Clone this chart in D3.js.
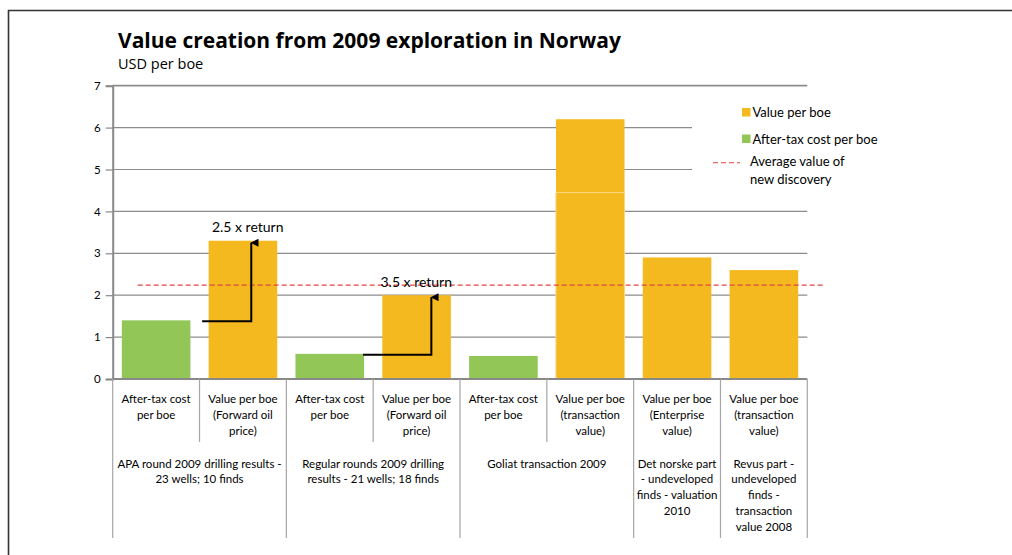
<!DOCTYPE html>
<html>
<head>
<meta charset="utf-8">
<script src="https://cdn.jsdelivr.net/npm/d3@7"></script>
<style>
  html, body { margin: 0; padding: 0; background: #fff; }
  svg { display: block; font-family: Lato, "Open Sans", sans-serif; }
</style>
</head>
<body>
<svg id="chart" width="1012" height="555"></svg>
<script>
// Category labels (one per bar), bottom-level axis text
const categories = [
  "After-tax cost\nper boe",
  "Value per boe\n(Forward oil\nprice)",
  "After-tax cost\nper boe",
  "Value per boe\n(Forward oil\nprice)",
  "After-tax cost\nper boe",
  "Value per boe\n(transaction\nvalue)",
  "Value per boe\n(Enterprise\nvalue)",
  "Value per boe\n(transaction\nvalue)"
];

// Group labels with the span of categories they cover
const groupLabels = [
  "APA round 2009 drilling results -\n23 wells; 10 finds",
  "Regular rounds 2009 drilling\nresults - 21 wells; 18 finds",
  "Goliat transaction 2009",
  "Det norske part\n- undeveloped\nfinds - valuation\n2010",
  "Revus part -\nundeveloped\nfinds -\ntransaction\nvalue 2008"
];
const groupSpans = [[0, 1], [2, 3], [4, 5], [6, 6], [7, 7]];

// Series values (USD per boe); null where a series has no bar
const costValues  = [1.4, null, 0.6, null, 0.55, null, null, null];
const valueLower  = [null, 3.3, null, 2.0, null, 4.45, 2.9, 2.6];
const valueUpper  = [null, 0, null, 0, null, 1.75, 0, 0];

const averageValue = 2.24;
const yTicks = [0, 1, 2, 3, 4, 5, 6, 7];

// Return annotations: from a cost bar to a value bar
const returnLabels = ["2.5 x return", "3.5 x return"];
const returnFrom = [0, 2];
const returnTo = [1, 3];

const legendLabels = ["Value per boe", "After-tax cost per boe", "Average value of\nnew discovery"];

const ORANGE = "#F5B920";
const GREEN = "#92C757";
const RED = "#E0463F";

const svg = d3.select("#chart");

// outer frame (top and left edges)
svg.append("path")
  .attr("d", "M8.5,555 V10.5 H1012")
  .attr("fill", "none").attr("stroke", "#333").attr("stroke-width", 1.6);

const plotLeft = 112.7, plotRight = 807.3, plotTop = 85.7, plotBottom = 379;

const x = d3.scaleBand().domain(d3.range(categories.length))
  .range([plotLeft, plotRight]).paddingInner(0.21).paddingOuter(0.105);
const xCell = d3.scaleBand().domain(d3.range(categories.length))
  .range([plotLeft, plotRight]).padding(0);
const y = d3.scaleLinear().domain([0, 7]).range([plotBottom, plotTop]);

// title
svg.append("text").attr("x", 118).attr("y", 48)
  .attr("font-family", "'Open Sans', sans-serif")
  .attr("font-size", 21).attr("font-weight", 700).attr("fill", "#000")
  .text("Value creation from 2009 exploration in Norway");
svg.append("text").attr("x", 118).attr("y", 69)
  .attr("font-family", "'Open Sans', sans-serif")
  .attr("font-size", 14.5).attr("fill", "#000")
  .text("USD per boe");

// gridlines
svg.append("g").selectAll("line").data(yTicks.filter(d => d > 0)).join("line")
  .attr("x1", plotLeft).attr("x2", plotRight)
  .attr("y1", d => y(d)).attr("y2", d => y(d))
  .attr("stroke", "#8c8c8c").attr("stroke-width", d => d === 7 ? 1.8 : 1.2);

// y axis
const yAxis = svg.append("g").attr("transform", `translate(${plotLeft},0)`)
  .call(d3.axisLeft(y).tickValues(yTicks).tickSize(7).tickPadding(5).tickFormat(d3.format("d")));
yAxis.select(".domain").attr("stroke", "#888").attr("stroke-width", 2);
yAxis.selectAll(".tick line").attr("stroke", "#888").attr("stroke-width", 1.2);
yAxis.selectAll(".tick text").attr("font-family", "Lato, sans-serif")
  .attr("font-size", 11.5).attr("fill", "#000");

// legend background hides grid behind it
svg.append("rect").attr("x", 692).attr("y", 96).attr("width", 300).attr("height", 106).attr("fill", "#fff");

// bars
const bars = svg.append("g");
bars.selectAll("rect.cost").data(costValues.map((v, i) => ({ v, i })).filter(d => d.v != null)).join("rect")
  .attr("class", "cost")
  .attr("x", d => x(d.i)).attr("width", x.bandwidth())
  .attr("y", d => y(d.v)).attr("height", d => y(0) - y(d.v))
  .attr("fill", GREEN);
bars.selectAll("rect.upper").data(valueUpper.map((v, i) => ({ v, i, base: valueLower[i] })).filter(d => d.v)).join("rect")
  .attr("class", "upper")
  .attr("x", d => x(d.i)).attr("width", x.bandwidth())
  .attr("y", d => y(d.base + d.v)).attr("height", d => y(d.base) - y(d.base + d.v))
  .attr("fill", ORANGE);
bars.selectAll("rect.lower").data(valueLower.map((v, i) => ({ v, i })).filter(d => d.v != null)).join("rect")
  .attr("class", "lower")
  .attr("x", d => x(d.i)).attr("width", x.bandwidth())
  .attr("y", d => y(d.v)).attr("height", d => y(0) - y(d.v))
  .attr("fill", ORANGE)
  .attr("stroke", d => valueUpper[d.i] ? "#F9D77F" : "none").attr("stroke-width", 1);

// x axis baseline
svg.append("line").attr("x1", plotLeft).attr("x2", plotRight).attr("y1", plotBottom).attr("y2", plotBottom)
  .attr("stroke", "#888").attr("stroke-width", 2);

// category separators: short between categories inside a group, long between groups
const groupBounds = new Set([0]);
groupSpans.forEach(s => groupBounds.add(s[1] + 1));
const sepIdx = d3.range(categories.length + 1);
svg.append("g").selectAll("line").data(sepIdx).join("line")
  .attr("x1", i => i < categories.length ? xCell(i) : plotRight)
  .attr("x2", i => i < categories.length ? xCell(i) : plotRight)
  .attr("y1", plotBottom)
  .attr("y2", i => groupBounds.has(i) ? 538 : 442)
  .attr("stroke", "#a6a6a6").attr("stroke-width", 1.2);

// multi-line label helper
function multiline(sel, text, cx, y0, lh) {
  const t = sel.append("text").attr("text-anchor", "middle").attr("fill", "#000");
  text.split("\n").forEach((s, k) => {
    t.append("tspan").attr("x", cx).attr("y", y0 + k * lh).text(s);
  });
  return t;
}

const catG = svg.append("g").attr("font-size", 11.5);
categories.forEach((c, i) => {
  multiline(catG, c, xCell(i) + xCell.bandwidth() / 2, 403, 16);
});
const grpG = svg.append("g").attr("font-size", 11.5);
groupLabels.forEach((g, k) => {
  const [a, b] = groupSpans[k];
  const cx = (xCell(a) + xCell(b) + xCell.bandwidth()) / 2;
  multiline(grpG, g, cx, 467.5, 15.8);
});

// average value line
svg.append("line").attr("x1", 137.7).attr("x2", 823)
  .attr("y1", y(averageValue)).attr("y2", y(averageValue))
  .attr("stroke", RED).attr("stroke-width", 1.1).attr("stroke-dasharray", "5,3");

// return arrows
const defs = svg.append("defs");
defs.append("marker").attr("id", "head").attr("viewBox", "0 0 10 10")
  .attr("refX", 5).attr("refY", 1).attr("markerWidth", 8).attr("markerHeight", 10)
  .attr("markerUnits", "userSpaceOnUse").attr("orient", "auto-start-reverse")
  .append("path").attr("d", "M0,10 L5,0 L10,10 Z").attr("fill", "#000");

const arrowStartCat = [1, 2];
const arrowStartFrac = [0.03, 0.884];
const arrowEndFrac = [0.596, 0.67];
const labelFrac = [0.143, 0.084];
const labelVal = [3.5, 2.2];
returnLabels.forEach((lab, k) => {
  const a = returnFrom[k], b = returnTo[k];
  const step = xCell.bandwidth();
  const xs = xCell(arrowStartCat[k]) + arrowStartFrac[k] * step;
  const xe = xCell(b) + arrowEndFrac[k] * step;
  const ys = y(costValues[a]) + 1;
  const ye = y(valueLower[b]);
  svg.append("path")
    .attr("d", `M${xs},${ys} H${xe} V${ye + 2}`)
    .attr("fill", "none").attr("stroke", "#000").attr("stroke-width", 2)
    .attr("marker-end", "url(#head)");
  svg.append("text").attr("x", xCell(b) + labelFrac[k] * step).attr("y", y(labelVal[k]))
    .attr("font-size", 14).attr("fill", "#000").text(lab);
});

// legend
const lg = svg.append("g").attr("font-size", 13).attr("fill", "#000");
lg.append("rect").attr("x", 742).attr("y", 108).attr("width", 8.5).attr("height", 8.5).attr("fill", ORANGE);
lg.append("text").attr("x", 752.5).attr("y", 117).text(legendLabels[0]);
lg.append("rect").attr("x", 742).attr("y", 134.5).attr("width", 8.5).attr("height", 8.5).attr("fill", GREEN);
lg.append("text").attr("x", 752.5).attr("y", 143.5).text(legendLabels[1]);
lg.append("line").attr("x1", 713).attr("x2", 740).attr("y1", 162.7).attr("y2", 162.7)
  .attr("stroke", RED).attr("stroke-width", 1.1).attr("stroke-dasharray", "5,3");
legendLabels[2].split("\n").forEach((s, k) => {
  lg.append("text").attr("x", 750).attr("y", 166 + k * 18).text(s);
});
</script>
</body>
</html>
